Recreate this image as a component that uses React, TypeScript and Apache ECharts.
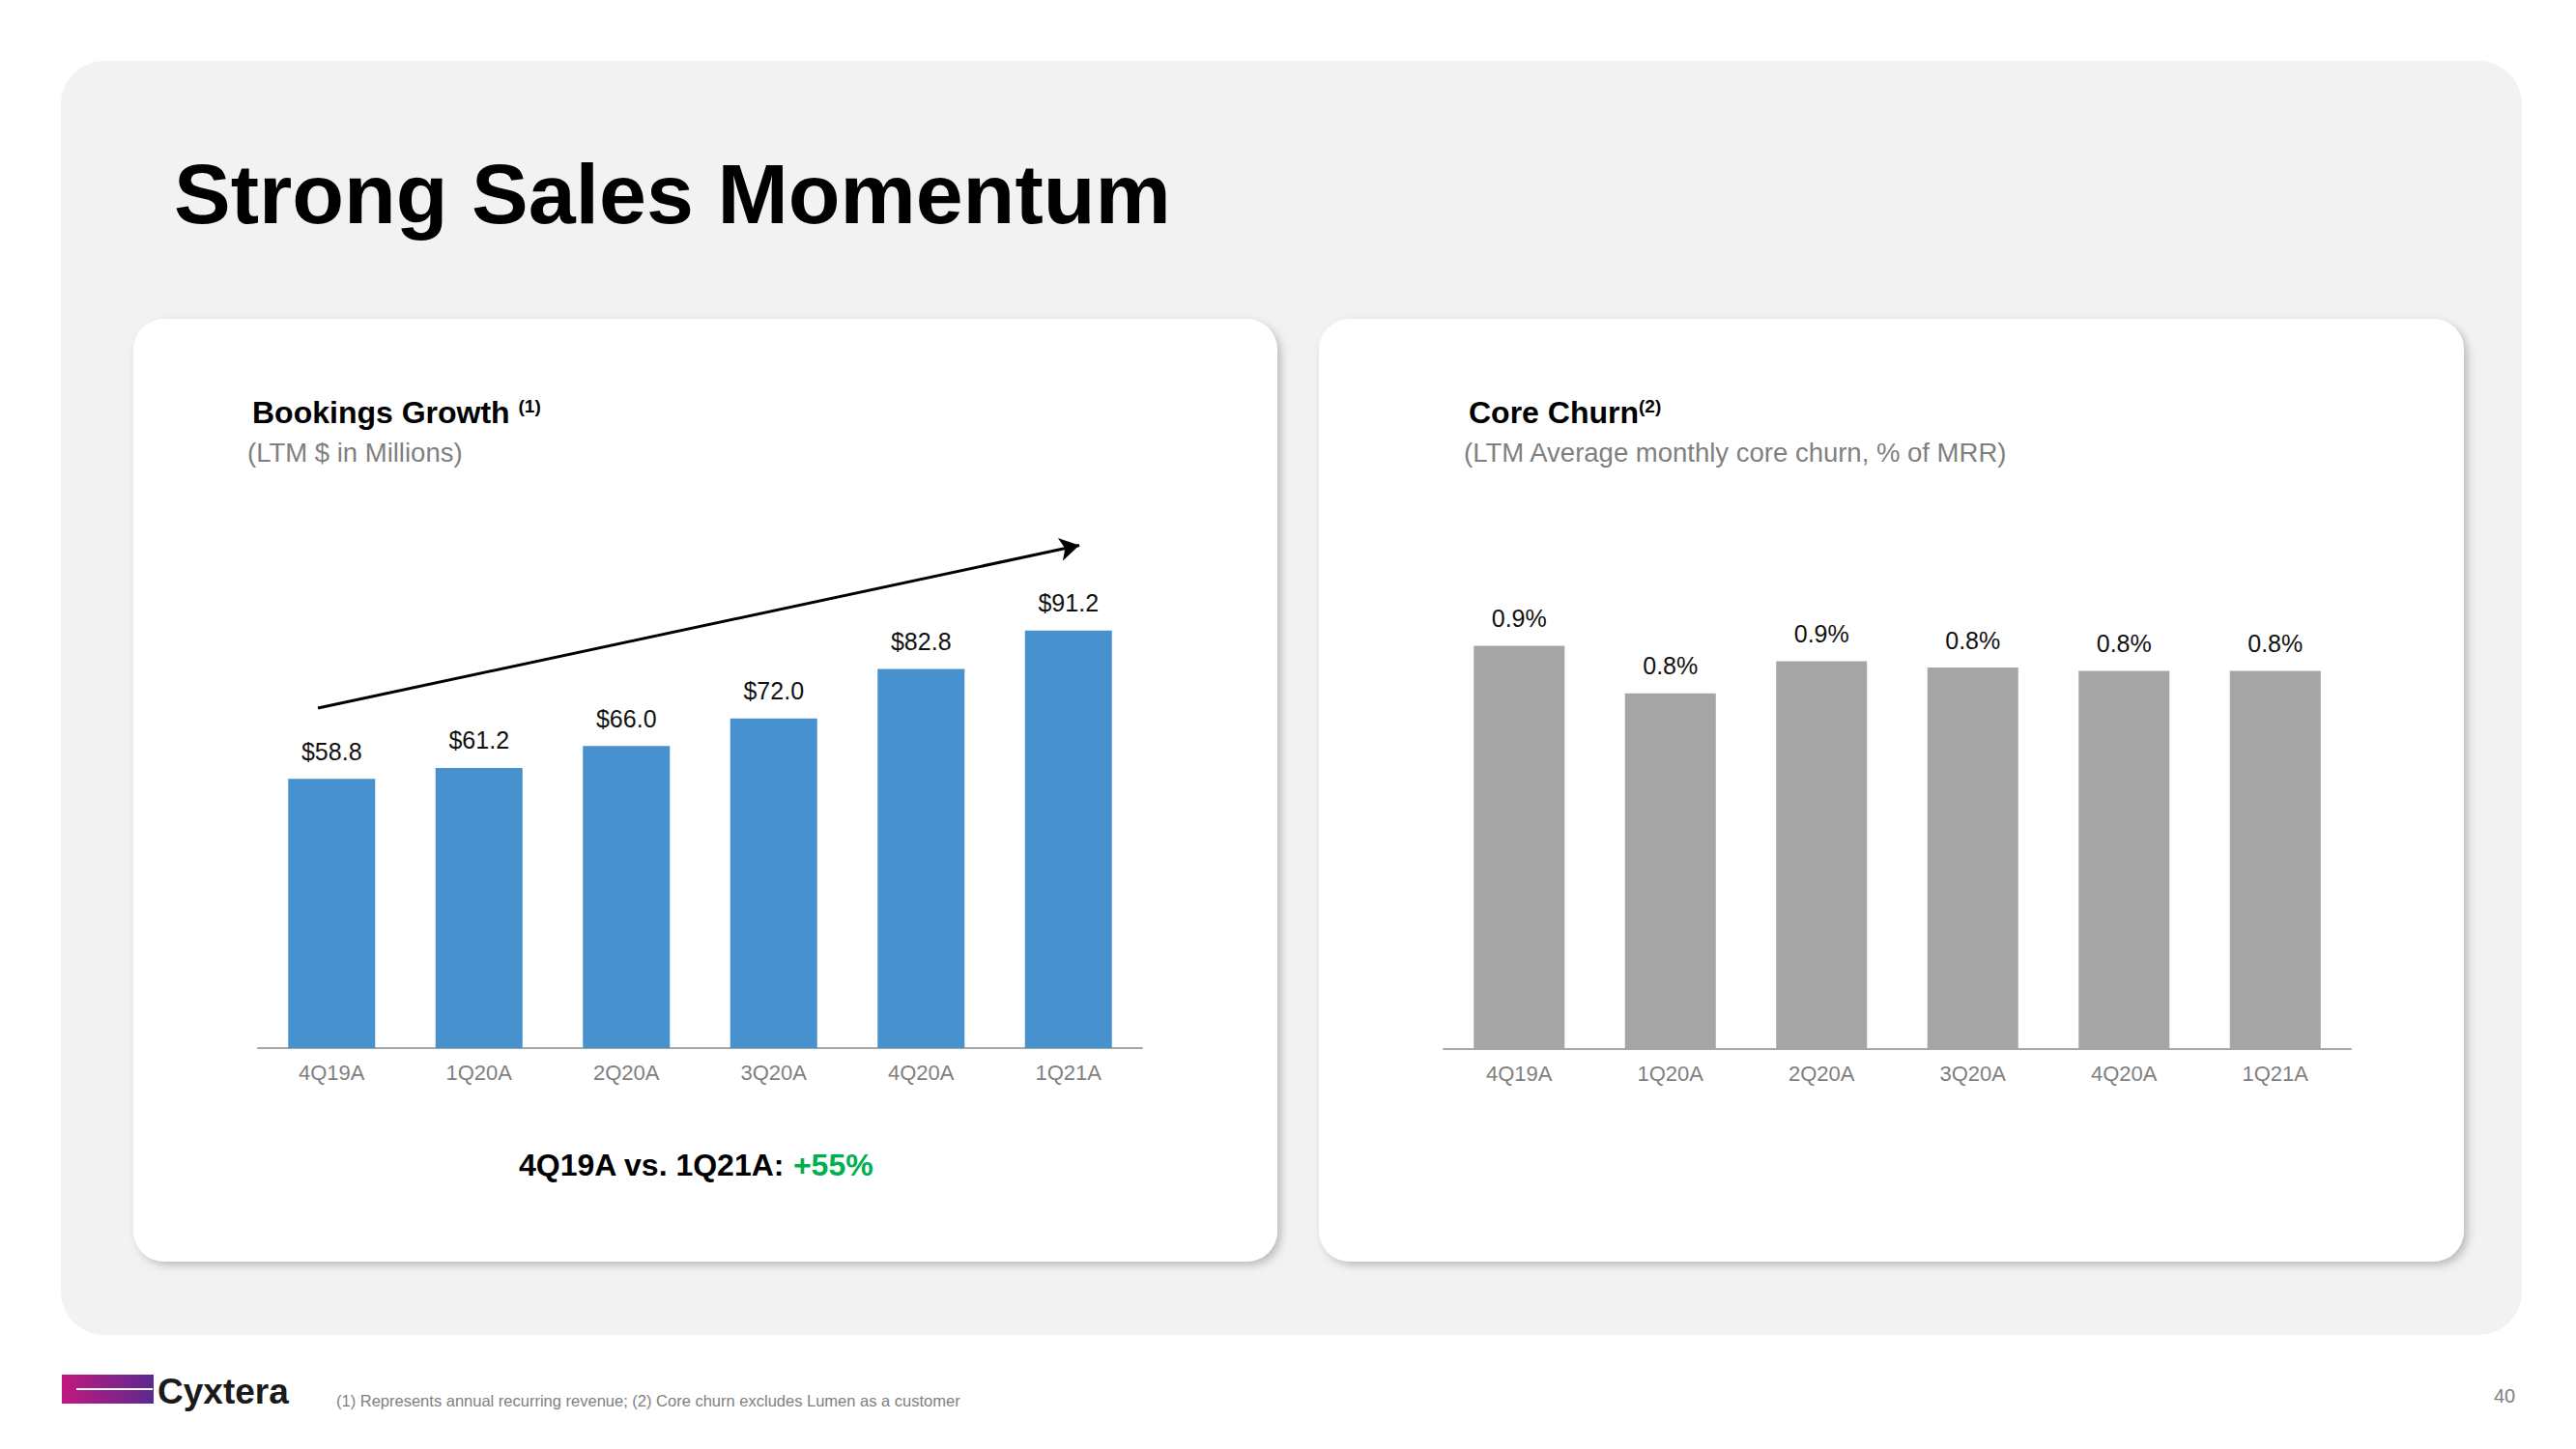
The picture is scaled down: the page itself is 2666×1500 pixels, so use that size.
import React, { useEffect, useRef } from "react";
import * as echarts from "echarts";

const categories = ["4Q19A", "1Q20A", "2Q20A", "3Q20A", "4Q20A", "1Q21A"];
const bookings = [58.8, 61.2, 66.0, 72.0, 82.8, 91.2];
const churn = [0.89, 0.785, 0.856, 0.842, 0.835, 0.835];

const FONT = "'Liberation Sans', Arial, sans-serif";

export default function App() {
  const ref = useRef<HTMLDivElement>(null);

  useEffect(() => {
    if (!ref.current) return;
    const chart = echarts.init(ref.current, undefined, { renderer: "svg" });

    const xAxisCommon = {
      type: "category",
      data: categories,
      axisLine: { show: true, lineStyle: { color: "#a6a6a6", width: 2 } },
      axisTick: { show: false },
      axisLabel: { color: "#7f7f7f", fontSize: 22, margin: 14, fontFamily: FONT, interval: 0 },
      splitLine: { show: false },
    };

    const option: any = {
      animation: false,
      backgroundColor: "#ffffff",
      textStyle: { fontFamily: FONT },
      grid: [
        { left: 267, top: 611, width: 915, height: 474, containLabel: false },
        { left: 1494, top: 617, width: 939, height: 469, containLabel: false },
      ],
      xAxis: [
        { ...xAxisCommon, gridIndex: 0 },
        { ...xAxisCommon, gridIndex: 1 },
      ],
      yAxis: [
        { type: "value", gridIndex: 0, min: 0, max: 100, show: false, splitLine: { show: false } },
        { type: "value", gridIndex: 1, min: 0, max: 1, show: false, splitLine: { show: false } },
      ],
      series: [
        {
          type: "bar",
          xAxisIndex: 0,
          yAxisIndex: 0,
          data: bookings,
          barWidth: 90,
          itemStyle: { color: "#4791cf" },
          label: {
            show: true,
            position: "top",
            distance: 16,
            color: "#111111",
            fontSize: 25,
            fontFamily: FONT,
            formatter: (p: any) => "$" + Number(p.value).toFixed(1),
          },
          markLine: {
            silent: true,
            symbol: ["none", "arrow"],
            symbolSize: [18, 20],
            label: { show: false },
            lineStyle: { color: "#000000", width: 3, type: "solid" },
            emphasis: { disabled: true },
            data: [[{ x: 329, y: 733 }, { x: 1117, y: 564.5 }]],
          },
        },
        {
          type: "bar",
          xAxisIndex: 1,
          yAxisIndex: 1,
          data: churn,
          barWidth: 94,
          itemStyle: { color: "#a5a5a5" },
          label: {
            show: true,
            position: "top",
            distance: 16,
            color: "#111111",
            fontSize: 25,
            fontFamily: FONT,
            formatter: (p: any) => Number(p.value).toFixed(1) + "%",
          },
        },
      ],
      graphic: [
        {
          type: "rect",
          z: -10,
          shape: { x: 63, y: 63, width: 2547, height: 1319, r: 45 },
          style: { fill: "#f2f2f2" },
        },
        {
          type: "rect",
          z: -9,
          shape: { x: 138, y: 330, width: 1184, height: 976, r: 32 },
          style: {
            fill: "#ffffff",
            shadowBlur: 8,
            shadowColor: "rgba(0,0,0,0.22)",
            shadowOffsetX: 4,
            shadowOffsetY: 4,
          },
        },
        {
          type: "rect",
          z: -9,
          shape: { x: 1365, y: 330, width: 1185, height: 976, r: 32 },
          style: {
            fill: "#ffffff",
            shadowBlur: 8,
            shadowColor: "rgba(0,0,0,0.22)",
            shadowOffsetX: 4,
            shadowOffsetY: 4,
          },
        },
        {
          type: "text",
          z: 10,
          x: 180,
          y: 200,
          style: {
            text: "Strong Sales Momentum",
            fontFamily: FONT,
            fontWeight: "bold",
            fontSize: 88,
            fill: "#000000",
            verticalAlign: "middle",
          },
        },
        {
          type: "text",
          z: 10,
          x: 261,
          y: 427,
          style: {
            text: "{t|Bookings Growth }{s|(1)}",
            verticalAlign: "middle",
            rich: {
              t: { fontFamily: FONT, fontWeight: "bold", fontSize: 32, fill: "#000000" },
              s: { fontFamily: FONT, fontWeight: "bold", fontSize: 19, fill: "#000000", verticalAlign: "top" },
            },
          },
        },
        {
          type: "text",
          z: 10,
          x: 256,
          y: 468,
          style: {
            text: "(LTM $ in Millions)",
            fontFamily: FONT,
            fontSize: 27.5,
            fill: "#7f7f7f",
            verticalAlign: "middle",
          },
        },
        {
          type: "text",
          z: 10,
          x: 1520,
          y: 427,
          style: {
            text: "{t|Core Churn}{s|(2)}",
            verticalAlign: "middle",
            rich: {
              t: { fontFamily: FONT, fontWeight: "bold", fontSize: 32, fill: "#000000" },
              s: { fontFamily: FONT, fontWeight: "bold", fontSize: 19, fill: "#000000", verticalAlign: "top" },
            },
          },
        },
        {
          type: "text",
          z: 10,
          x: 1515,
          y: 468,
          style: {
            text: "(LTM Average monthly core churn, % of MRR)",
            fontFamily: FONT,
            fontSize: 27.5,
            fill: "#7f7f7f",
            verticalAlign: "middle",
          },
        },
        {
          type: "text",
          z: 10,
          x: 720,
          y: 1206,
          style: {
            text: "{a|4Q19A vs. 1Q21A: }{g|+55%}",
            align: "center",
            verticalAlign: "middle",
            rich: {
              a: { fontFamily: FONT, fontWeight: "bold", fontSize: 32, fill: "#000000" },
              g: { fontFamily: FONT, fontWeight: "bold", fontSize: 32, fill: "#00b050" },
            },
          },
        },
        {
          type: "rect",
          z: 10,
          shape: { x: 64, y: 1423, width: 95, height: 30 },
          style: {
            fill: new echarts.graphic.LinearGradient(0, 0, 1, 0, [
              { offset: 0, color: "#c2187f" },
              { offset: 1, color: "#5b2a90" },
            ]),
          },
        },
        {
          type: "line",
          z: 11,
          shape: { x1: 79, y1: 1438, x2: 158, y2: 1438 },
          style: { stroke: "#ffffff", lineWidth: 2 },
        },
        {
          type: "text",
          z: 10,
          x: 163,
          y: 1440,
          style: {
            text: "Cyxtera",
            fontFamily: FONT,
            fontWeight: "bold",
            fontSize: 37,
            fill: "#1a1a1a",
            verticalAlign: "middle",
          },
        },
        {
          type: "text",
          z: 10,
          x: 348,
          y: 1450,
          style: {
            text: "(1) Represents annual recurring revenue; (2) Core churn excludes Lumen as a customer",
            fontFamily: FONT,
            fontSize: 16.5,
            fill: "#7f7f7f",
            verticalAlign: "middle",
          },
        },
        {
          type: "text",
          z: 10,
          x: 2581,
          y: 1445,
          style: {
            text: "40",
            fontFamily: FONT,
            fontSize: 20,
            fill: "#7f7f7f",
            verticalAlign: "middle",
          },
        },
      ],
    };

    chart.setOption(option);
    return () => {
      chart.dispose();
    };
  }, []);

  return (
    <div
      ref={ref}
      style={{ position: "absolute", left: 0, top: 0, width: 2666, height: 1500 }}
    />
  );
}
